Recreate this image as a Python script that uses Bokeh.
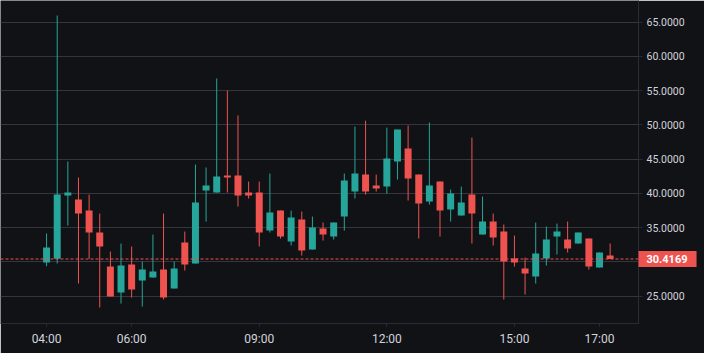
import pandas as pd
from bokeh.plotting import figure
from bokeh.models import (ColumnDataSource, FixedTicker, NumeralTickFormatter,
                          DatetimeTickFormatter, Span, Label, Range1d)
from bokeh.embed import file_html
from bokeh.resources import INLINE

times = ["04:00", "04:15", "04:30", "04:45", "05:00", "05:15", "05:30", "05:45",
         "06:00", "06:15", "06:30", "06:45", "07:00", "07:15", "07:30", "07:45",
         "08:00", "08:15", "08:30", "08:45", "09:00", "09:15", "09:30", "09:45",
         "10:00", "10:15", "10:30", "10:45", "11:00", "11:15", "11:30", "11:45",
         "12:00", "12:15", "12:30", "12:45", "13:00", "13:15", "13:30", "13:45",
         "14:00", "14:15", "14:30", "14:45", "15:00", "15:15", "15:30", "15:45",
         "16:00", "16:15", "16:30", "16:45", "17:00", "17:15"]

open_ = [29.90, 30.44, 39.68, 39.09, 37.49, 34.28, 29.31, 25.52, 29.60, 27.27,
         27.71, 28.88, 26.10, 32.82, 29.75, 40.41, 40.12, 42.60, 42.60, 40.12,
         40.12, 34.57, 37.49, 32.96, 36.18, 31.79, 34.86, 33.69, 36.61, 40.26,
         42.74, 41.14, 40.99, 44.64, 46.54, 42.74, 38.80, 41.72, 37.64, 36.76,
         39.82, 33.98, 35.88, 34.42, 30.48, 29.02, 27.85, 30.48, 33.69, 33.26,
         32.67, 33.40, 29.17, 30.92]

high = [34.13, 65.96, 44.64, 42.31, 39.82, 37.05, 31.50, 32.67, 32.23, 30.04,
        33.98, 37.05, 30.04, 34.42, 44.20, 43.77, 56.76, 55.00, 51.36, 41.72,
        41.72, 42.89, 37.49, 37.49, 37.34, 36.61, 35.74, 35.74, 42.89, 49.75,
        50.61, 42.74, 49.60, 49.31, 49.90, 42.74, 50.33, 41.72, 40.55, 40.99,
        48.15, 39.53, 37.05, 35.45, 33.84, 30.63, 35.74, 35.15, 35.59, 35.88,
        34.28, 33.40, 31.36, 32.67]

low = [29.36, 29.75, 35.30, 26.83, 30.44, 23.33, 24.93, 23.91, 24.79, 23.47,
       27.71, 24.50, 26.10, 28.73, 29.75, 35.88, 40.12, 40.12, 38.07, 39.24,
       32.23, 34.28, 33.40, 32.38, 30.92, 31.79, 33.11, 33.26, 34.57, 39.24,
       39.82, 40.26, 39.97, 42.01, 38.95, 33.40, 38.36, 33.69, 35.88, 36.76,
       32.67, 33.98, 32.38, 24.50, 29.31, 25.23, 26.83, 29.46, 31.07, 31.36,
       32.67, 28.88, 29.17, 30.42]

close = [32.09, 39.82, 40.12, 37.05, 34.28, 32.23, 24.93, 29.46, 25.96, 28.88,
         28.59, 24.79, 29.02, 29.60, 38.66, 41.14, 42.45, 42.31, 39.68, 39.68,
         34.28, 37.20, 33.69, 36.47, 31.65, 35.00, 33.99, 35.74, 41.87, 42.89,
         40.26, 40.70, 45.08, 49.31, 42.16, 38.51, 41.14, 37.49, 39.97, 38.66,
         37.05, 35.88, 33.55, 30.04, 29.90, 28.30, 31.21, 33.26, 34.42, 31.94,
         34.28, 29.31, 31.36, 30.4169]

x_tick_labels = ["04:00", "06:00", "09:00", "12:00", "15:00", "17:00"]
y_ticks = [25, 30, 35, 40, 45, 50, 55, 60, 65]
last_price = 30.4169

UP = "#26a69a"
DOWN = "#ef5350"
BG = "#111215"
GRID = "#34353f"
AXIS = "#2a2b36"
TXT = "#d1d4dc"

DAY = "2024-01-01 "
t = pd.to_datetime([DAY + s for s in times])
colors = [UP if c >= o else DOWN for o, c in zip(open_, close)]
top = [max(o, c) for o, c in zip(open_, close)]
bot = [min(o, c) for o, c in zip(open_, close)]

src = ColumnDataSource(dict(t=t, o=open_, h=high, l=low, c=close,
                            top=top, bot=bot, color=colors))

x0 = t[0] - pd.Timedelta(minutes=65)
x1 = t[-1] + pd.Timedelta(minutes=40)
x1_ms = x1.value / 1e6

p = figure(x_axis_type="datetime", y_axis_location="right",
           frame_width=638, frame_height=323,
           x_range=Range1d(x0, x1), y_range=Range1d(21.0, 68.15),
           output_backend="svg", toolbar_location=None,
           background_fill_color=BG, border_fill_color=BG,
           min_border_left=0, min_border_top=0, min_border_right=66,
           min_border_bottom=30)
p.outline_line_color = None

# grid
p.xgrid.grid_line_color = None
p.ygrid.grid_line_color = GRID
p.ygrid.grid_line_width = 1
p.ygrid.ticker = FixedTicker(ticks=y_ticks)

# y axis (right)
yax = p.yaxis[0]
yax.ticker = FixedTicker(ticks=y_ticks)
yax.formatter = NumeralTickFormatter(format="0.0000")
yax.axis_line_color = AXIS
yax.major_tick_line_color = AXIS
yax.major_tick_out = 4
yax.major_tick_in = 0
yax.minor_tick_line_color = None
yax.major_label_text_color = TXT
yax.major_label_text_font = "Roboto"
yax.major_label_text_font_size = "10.5px"
yax.major_label_standoff = 4

# x axis
x_ticks = [pd.Timestamp(DAY + s).value // 10**6 for s in x_tick_labels]
xax = p.xaxis[0]
xax.ticker = FixedTicker(ticks=x_ticks)
xax.formatter = DatetimeTickFormatter(hours="%H:%M", hourmin="%H:%M",
                                      minutes="%H:%M", days="%H:%M",
                                      minsec="%H:%M", context=None)
xax.axis_line_color = AXIS
xax.major_tick_line_color = AXIS
xax.major_tick_out = 3
xax.major_tick_in = 0
xax.minor_tick_line_color = None
xax.major_label_text_color = TXT
xax.major_label_text_font = "Roboto"
xax.major_label_text_font_size = "12px"
xax.major_label_standoff = 5

# candles
p.segment(x0="t", y0="h", x1="t", y1="l", line_color="color", line_width=1,
          source=src)
p.vbar(x="t", top="top", bottom="bot", width=590000, fill_color="color",
       line_color=None, source=src)

# last price line and label (label lives in the right panel so it is not clipped)
p.add_layout(Span(location=last_price, dimension="width", line_color=DOWN,
                  line_dash="3 2", line_width=1.2, level="overlay"))
p.add_layout(Label(x=x1_ms, y=last_price, text=f"{last_price:.4f}",
                   x_offset=0, text_align="left", text_baseline="middle",
                   text_color="#ffffff", text_font="Roboto",
                   text_font_size="11px", text_font_style="bold",
                   background_fill_color=DOWN,
                   padding=dict(left=8, right=9, top=4, bottom=4)), "right")

open("out.html", "w").write(file_html(p, INLINE))
